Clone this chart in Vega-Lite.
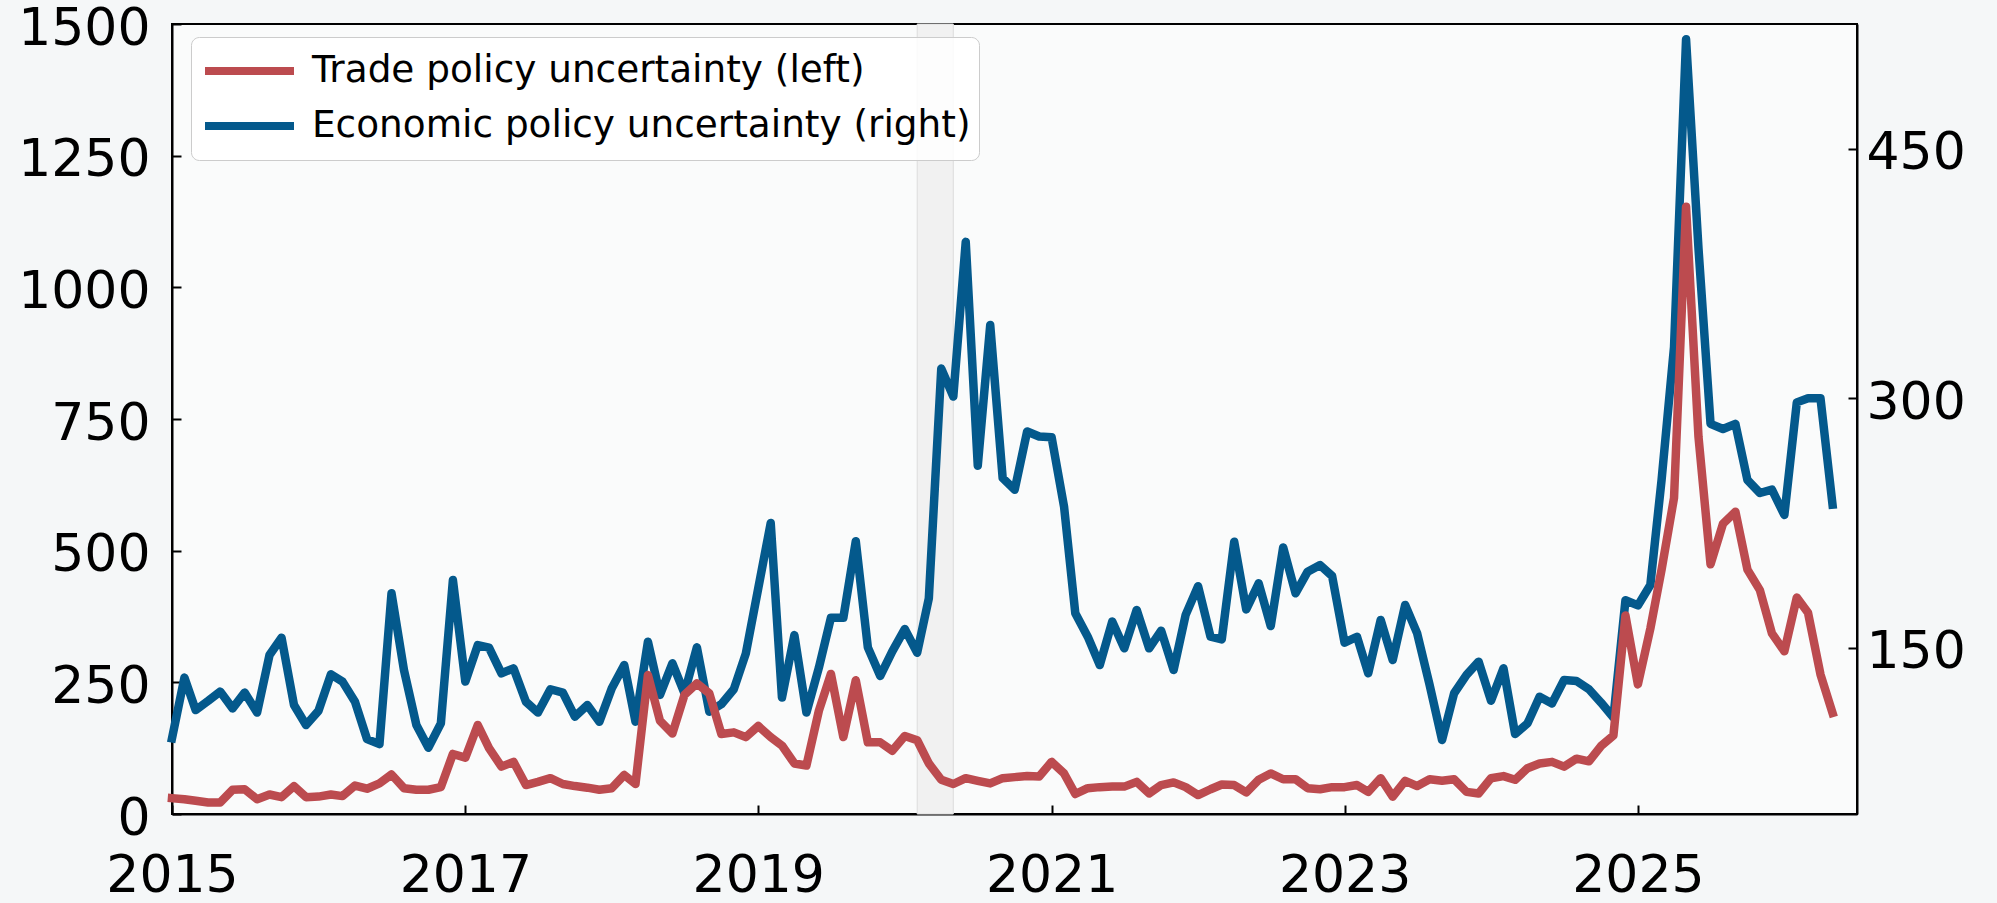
{
  "$schema": "https://vega.github.io/schema/vega-lite/v6.json",
  "width": 1685,
  "height": 790,
  "autosize": {"type": "none"},
  "padding": {"left": 172, "top": 24, "right": 140, "bottom": 89},
  "background": "#f5f7f8",
  "config": {
    "font": "DejaVu Sans",
    "view": {"stroke": "black", "strokeWidth": 2, "fill": "#fafbfb"},
    "axis": {
      "grid": false, "domainColor": "black", "domainWidth": 2,
      "tickColor": "black", "tickWidth": 2, "tickSize": -9,
      "labelFontSize": 52, "labelColor": "black", "labelFont": "DejaVu Sans",
      "title": null
    }
  },
  "data": {"values": [
    {"d":"2015-01-01","t":30,"e":95.5},{"d":"2015-02-01","t":28,"e":132},{"d":"2015-03-01","t":25,"e":112.5},{"d":"2015-04-01","t":22,"e":118},{"d":"2015-05-01","t":22,"e":123.6},{"d":"2015-06-01","t":46,"e":113.5},{"d":"2015-07-01","t":47,"e":123},{"d":"2015-08-01","t":28,"e":111},{"d":"2015-09-01","t":37,"e":145.6},{"d":"2015-10-01","t":32,"e":156},{"d":"2015-11-01","t":53,"e":115.5},{"d":"2015-12-01","t":32,"e":103.5},
    {"d":"2016-01-01","t":33,"e":112},{"d":"2016-02-01","t":37,"e":134},{"d":"2016-03-01","t":34,"e":129.6},{"d":"2016-04-01","t":54,"e":117.5},{"d":"2016-05-01","t":48,"e":95},{"d":"2016-06-01","t":58,"e":92},{"d":"2016-07-01","t":75,"e":182.7},{"d":"2016-08-01","t":49,"e":136.6},{"d":"2016-09-01","t":46,"e":103.5},{"d":"2016-10-01","t":46,"e":89.9},{"d":"2016-11-01","t":51,"e":104.5},{"d":"2016-12-01","t":114,"e":190.7},
    {"d":"2017-01-01","t":107,"e":129.6},{"d":"2017-02-01","t":169,"e":151.6},{"d":"2017-03-01","t":125,"e":150},{"d":"2017-04-01","t":90,"e":134.6},{"d":"2017-05-01","t":99,"e":137.6},{"d":"2017-06-01","t":55,"e":117.5},{"d":"2017-07-01","t":61,"e":111},{"d":"2017-08-01","t":68,"e":125},{"d":"2017-09-01","t":57,"e":123},{"d":"2017-10-01","t":53,"e":108.5},{"d":"2017-11-01","t":50,"e":115.5},{"d":"2017-12-01","t":46,"e":105.5},
    {"d":"2018-01-01","t":49,"e":125.6},{"d":"2018-02-01","t":74,"e":139.6},{"d":"2018-03-01","t":57,"e":105.5},{"d":"2018-04-01","t":264,"e":153.6},{"d":"2018-05-01","t":177,"e":121.6},{"d":"2018-06-01","t":153,"e":140.6},{"d":"2018-07-01","t":226,"e":122.6},{"d":"2018-08-01","t":248,"e":150.2},{"d":"2018-09-01","t":229,"e":111.5},{"d":"2018-10-01","t":152,"e":116},{"d":"2018-11-01","t":155,"e":125},{"d":"2018-12-01","t":146,"e":146.5},
    {"d":"2019-01-01","t":167,"e":185.8},{"d":"2019-02-01","t":146,"e":225},{"d":"2019-03-01","t":130,"e":120},{"d":"2019-04-01","t":96,"e":157.6},{"d":"2019-05-01","t":92,"e":111},{"d":"2019-06-01","t":196,"e":138},{"d":"2019-07-01","t":266,"e":168},{"d":"2019-08-01","t":146,"e":168},{"d":"2019-09-01","t":254,"e":214},{"d":"2019-10-01","t":136,"e":150.2},{"d":"2019-11-01","t":136,"e":133},{"d":"2019-12-01","t":120,"e":147.8},
    {"d":"2020-01-01","t":148,"e":161.2},{"d":"2020-02-01","t":140,"e":147},{"d":"2020-03-01","t":96,"e":179.6},{"d":"2020-04-01","t":65,"e":317.8},{"d":"2020-05-01","t":57,"e":301},{"d":"2020-06-01","t":68,"e":394},{"d":"2020-07-01","t":63,"e":259.4},{"d":"2020-08-01","t":58,"e":344},{"d":"2020-09-01","t":68,"e":252},{"d":"2020-10-01","t":70,"e":245},{"d":"2020-11-01","t":72,"e":280},{"d":"2020-12-01","t":71,"e":277},
    {"d":"2021-01-01","t":99,"e":276.5},{"d":"2021-02-01","t":77,"e":234.8},{"d":"2021-03-01","t":38,"e":170.7},{"d":"2021-04-01","t":49,"e":156.6},{"d":"2021-05-01","t":51,"e":139.6},{"d":"2021-06-01","t":52,"e":165.7},{"d":"2021-07-01","t":52,"e":149.6},{"d":"2021-08-01","t":61,"e":172.7},{"d":"2021-09-01","t":39,"e":149.6},{"d":"2021-10-01","t":55,"e":160.2},{"d":"2021-11-01","t":60,"e":136.6},{"d":"2021-12-01","t":51,"e":169.7},
    {"d":"2022-01-01","t":36,"e":187},{"d":"2022-02-01","t":47,"e":156.6},{"d":"2022-03-01","t":56,"e":155},{"d":"2022-04-01","t":55,"e":213.7},{"d":"2022-05-01","t":41,"e":173},{"d":"2022-06-01","t":65,"e":188.7},{"d":"2022-07-01","t":77,"e":163},{"d":"2022-08-01","t":66,"e":210.3},{"d":"2022-09-01","t":66,"e":182.7},{"d":"2022-10-01","t":49,"e":195.7},{"d":"2022-11-01","t":47,"e":199.7},{"d":"2022-12-01","t":51,"e":193.1},
    {"d":"2023-01-01","t":51,"e":153},{"d":"2023-02-01","t":55,"e":156.6},{"d":"2023-03-01","t":42,"e":134.6},{"d":"2023-04-01","t":68,"e":166.7},{"d":"2023-05-01","t":33,"e":142.6},{"d":"2023-06-01","t":63,"e":175.7},{"d":"2023-07-01","t":53,"e":158.6},{"d":"2023-08-01","t":66,"e":127.6},{"d":"2023-09-01","t":63,"e":94.5},{"d":"2023-10-01","t":66,"e":122.6},{"d":"2023-11-01","t":42,"e":133.6},{"d":"2023-12-01","t":39,"e":141.6},
    {"d":"2024-01-01","t":68,"e":118.1},{"d":"2024-02-01","t":72,"e":137.6},{"d":"2024-03-01","t":65,"e":98.1},{"d":"2024-04-01","t":87,"e":104.5},{"d":"2024-05-01","t":96,"e":120.5},{"d":"2024-06-01","t":99,"e":116.5},{"d":"2024-07-01","t":90,"e":130.6},{"d":"2024-08-01","t":105,"e":130},{"d":"2024-09-01","t":100,"e":125},{"d":"2024-10-01","t":129,"e":117},{"d":"2024-11-01","t":149,"e":108},{"d":"2024-12-01","t":377,"e":178.5},
    {"d":"2025-01-01","t":246,"e":175.4},{"d":"2025-02-01","t":352,"e":187.7},{"d":"2025-03-01","t":464,"e":250.8},{"d":"2025-04-01","t":600,"e":330.7},{"d":"2025-05-01","t":1153,"e":515.8},{"d":"2025-06-01","t":716,"e":390},{"d":"2025-07-01","t":474,"e":284.6},{"d":"2025-08-01","t":551,"e":281.5},{"d":"2025-09-01","t":574,"e":284.6},{"d":"2025-10-01","t":464,"e":250.8},{"d":"2025-11-01","t":425,"e":243},{"d":"2025-12-01","t":343,"e":245},
    {"d":"2026-01-01","t":309,"e":229.8},{"d":"2026-02-01","t":411,"e":297.5},{"d":"2026-03-01","t":382,"e":300},{"d":"2026-04-01","t":265,"e":300},{"d":"2026-05-01","t":192,"e":236}
  ]},
  "layer": [
    {
      "data": {"values": [{"start": "2020-02-01", "end": "2020-05-01"}]},
      "mark": {"type": "rect", "fill": "#f1f1f1", "stroke": "#dddddd", "strokeWidth": 1},
      "encoding": {
        "x": {"field": "start", "type": "temporal",
              "scale": {"type": "utc", "domain": [{"year": 2015, "month": 1, "date": 1, "utc": true}, {"year": 2026, "month": 7, "date": 1, "utc": true}]},
              "axis": {"format": "%Y", "labelFlush": false, "labelPadding": 45, "labelOverlap": false,
                       "values": [{"year": 2015, "month": 1, "date": 1, "utc": true}, {"year": 2017, "month": 1, "date": 1, "utc": true}, {"year": 2019, "month": 1, "date": 1, "utc": true}, {"year": 2021, "month": 1, "date": 1, "utc": true}, {"year": 2023, "month": 1, "date": 1, "utc": true}, {"year": 2025, "month": 1, "date": 1, "utc": true}]}},
        "x2": {"field": "end"}
      }
    },
    {
      "mark": {"type": "line", "strokeWidth": 8.5, "strokeJoin": "round", "strokeCap": "square"},
      "encoding": {
        "x": {"field": "d", "type": "temporal"},
        "y": {"field": "e", "type": "quantitative",
              "scale": {"domain": [50, 525], "nice": false, "zero": false},
              "axis": {"orient": "right", "values": [150, 300, 450], "labelPadding": 18, "labelOffset": 4}},
        "color": {"datum": "Economic policy uncertainty (right)", "type": "nominal",
                  "scale": {"domain": ["Trade policy uncertainty (left)", "Economic policy uncertainty (right)"], "range": ["#bc4b4f", "#04598c"]},
                  "legend": {"orient": "none", "legendX": 19, "legendY": 13, "title": null,
                             "labelFontSize": 37.4, "labelFont": "DejaVu Sans", "labelColor": "black", "labelLimit": 2000,
                             "symbolType": "stroke", "symbolSize": 7921, "symbolStrokeWidth": 8,
                             "clipHeight": 52, "rowPadding": 3, "padding": 8, "symbolOffset": 2, "labelOffset": 14,
                             "fillColor": "rgba(255,255,255,0.85)", "strokeColor": "#cccccc", "cornerRadius": 8}}
      }
    },
    {
      "mark": {"type": "line", "strokeWidth": 8.5, "strokeJoin": "round", "strokeCap": "square"},
      "encoding": {
        "x": {"field": "d", "type": "temporal"},
        "y": {"field": "t", "type": "quantitative",
              "scale": {"domain": [0, 1500], "nice": false},
              "axis": {"orient": "left", "values": [0, 250, 500, 750, 1000, 1250, 1500], "format": "d", "labelPadding": 31, "labelOffset": 4}},
        "color": {"datum": "Trade policy uncertainty (left)", "type": "nominal"}
      }
    }
  ],
  "resolve": {"scale": {"y": "independent"}, "axis": {"y": "independent"}}
}
